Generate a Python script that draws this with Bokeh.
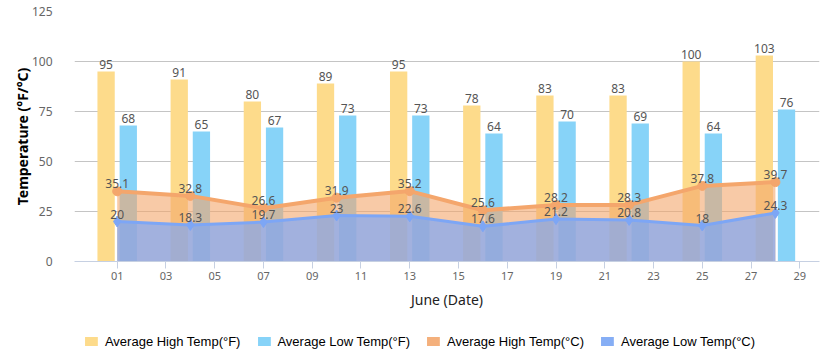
from bokeh.plotting import figure
from bokeh.layouts import column
from bokeh.models import ColumnDataSource, FixedTicker, Legend, LegendItem, Range1d
from bokeh.transform import dodge
from bokeh.core.properties import value
from bokeh.embed import file_html
from bokeh.resources import INLINE

# ---- data ----
days = [1, 4, 7, 10, 13, 16, 19, 22, 25, 28]
high_f = [95, 91, 80, 89, 95, 78, 83, 83, 100, 103]
low_f = [68, 65, 67, 73, 73, 64, 70, 69, 64, 76]
high_c = [35.1, 32.8, 26.6, 31.9, 35.2, 25.6, 28.2, 28.3, 37.8, 39.7]
low_c = [20, 18.3, 19.7, 23, 22.6, 17.6, 21.2, 20.8, 18, 24.3]
tick_days = list(range(1, 30, 2))
tick_labels = ["%02d" % d for d in tick_days]
y_ticks = [0, 25, 50, 75, 100, 125]
series_names = ["Average High Temp(°F)", "Average Low Temp(°F)",
                "Average High Temp(°C)", "Average Low Temp(°C)"]

src = ColumnDataSource(dict(
    day=days, high_f=high_f, low_f=low_f, high_c=high_c, low_c=low_c,
    zero=[0] * len(days),
    high_f_lbl=[str(v) for v in high_f], low_f_lbl=[str(v) for v in low_f],
    high_c_lbl=[str(v) for v in high_c], low_c_lbl=[str(v) for v in low_c],
))

YELLOW = "#FDDB8B"
SKY = "#87D3F8"
ORANGE = "#F4A66C"
BLUE = "#7DA6F5"
LBL = "#555555"
SWATCHES = [YELLOW, SKY, "#F4B07C", "#86AEF5"]

p = figure(width=830, height=320, output_backend="svg", toolbar_location=None,
           x_range=Range1d(-0.751, 29.808), y_range=Range1d(0, 125),
           min_border_left=74, min_border_right=11, min_border_top=11,
           min_border_bottom=59)
p.outline_line_color = None
p.background_fill_color = "white"
p.xgrid.visible = False
p.ygrid.ticker = FixedTicker(ticks=y_ticks)
p.ygrid.grid_line_color = "#C4C4C4"

# y axis
p.yaxis.ticker = FixedTicker(ticks=y_ticks)
p.yaxis.axis_line_color = None
p.yaxis.major_tick_line_color = None
p.yaxis.minor_tick_line_color = None
p.yaxis.major_label_standoff = 16
p.yaxis.major_label_text_font = "Noto Sans"
p.yaxis.major_label_text_font_size = "12px"
p.yaxis.major_label_text_color = "#666666"
p.yaxis.axis_label = "Temperature (°F/°C)"
p.yaxis.axis_label_text_font = "Noto Sans"
p.yaxis.axis_label_text_font_style = "bold"
p.yaxis.axis_label_text_font_size = "14px"
p.yaxis.axis_label_text_color = "#000000"
p.yaxis.axis_label_standoff = -3

# x axis
p.xaxis.ticker = FixedTicker(ticks=tick_days)
p.xaxis.major_label_overrides = {d: l for d, l in zip(tick_days, tick_labels)}
p.xaxis.axis_line_color = "#C6D0E2"
p.xaxis.major_tick_line_color = "#C6D0E2"
p.xaxis.major_tick_out = 7
p.xaxis.major_tick_in = 0
p.xaxis.minor_tick_line_color = None
p.xaxis.major_label_standoff = 3
p.xaxis.major_label_text_font = "Noto Sans"
p.xaxis.major_label_text_font_size = "11px"
p.xaxis.major_label_text_color = "#666666"
p.xaxis.axis_label = "June (Date)"
p.xaxis.axis_label_text_font = "Noto Sans"
p.xaxis.axis_label_text_font_style = "normal"
p.xaxis.axis_label_text_font_size = "14px"
p.xaxis.axis_label_text_color = "#222222"
p.xaxis.axis_label_standoff = 7

# bars
p.vbar(x=dodge("day", -0.455), top="high_f", width=0.71, source=src,
       fill_color=YELLOW, line_color=None)
p.vbar(x=dodge("day", 0.455), top="low_f", width=0.71, source=src,
       fill_color=SKY, line_color=None)

# areas and lines
p.varea(x="day", y1="zero", y2="high_c", source=src, fill_color=ORANGE, fill_alpha=0.6)
p.line(x="day", y="high_c", source=src, line_color=ORANGE, line_width=4)
p.varea(x="day", y1="zero", y2="low_c", source=src, fill_color=BLUE, fill_alpha=0.7)
p.line(x="day", y="low_c", source=src, line_color=BLUE, line_width=3)
p.scatter(x="day", y="high_c", source=src, marker="circle", size=9,
          fill_color=ORANGE, line_color=ORANGE)
p.scatter(x="day", y="low_c", source=src, marker="diamond", size=11,
          fill_color=BLUE, line_color=BLUE)

# labels
common = dict(source=src, text_align="center", text_baseline="bottom", y_offset=-3,
              text_font=value("Noto Sans"), text_font_size=value("12px"), text_color=LBL)
p.text(x=dodge("day", -0.455), y="high_f", text="high_f_lbl", **common)
p.text(x=dodge("day", 0.455), y="low_f", text="low_f_lbl", **common)
p.text(x="day", y="high_c", text="high_c_lbl", **common)
p.text(x="day", y="low_c", text="low_c_lbl", **common)

# legend strip (zero-height proxy bars supply the swatches)
lg = figure(width=830, height=42, output_backend="svg", toolbar_location=None,
            x_range=Range1d(0, 1), y_range=Range1d(0, 1),
            min_border_left=8, min_border_right=0, min_border_top=0, min_border_bottom=0)
lg.frame_align = False
lg.axis.visible = False
lg.grid.visible = False
lg.outline_line_color = None
proxy = ColumnDataSource(dict(x=[0.5], bottom=[0], top=[0]))
items = []
for name, col in zip(series_names, SWATCHES):
    r = lg.vbar(x="x", bottom="bottom", top="top", width=0.01, source=proxy,
                fill_color=col, line_color=None)
    items.append(LegendItem(label=name, renderers=[r]))

legend = Legend(items=items, orientation="horizontal", location="center")
legend.label_text_font = "Liberation Sans"
legend.label_text_font_size = "13px"
legend.label_text_color = "#000000"
legend.glyph_width = 16
legend.glyph_height = 11
legend.label_height = 14
legend.label_standoff = 6
legend.spacing = 15
legend.padding = 0
legend.margin = 0
legend.border_line_color = None
legend.background_fill_alpha = 0
lg.add_layout(legend)

open("out.html", "w").write(file_html(column(p, lg, spacing=0), INLINE))
